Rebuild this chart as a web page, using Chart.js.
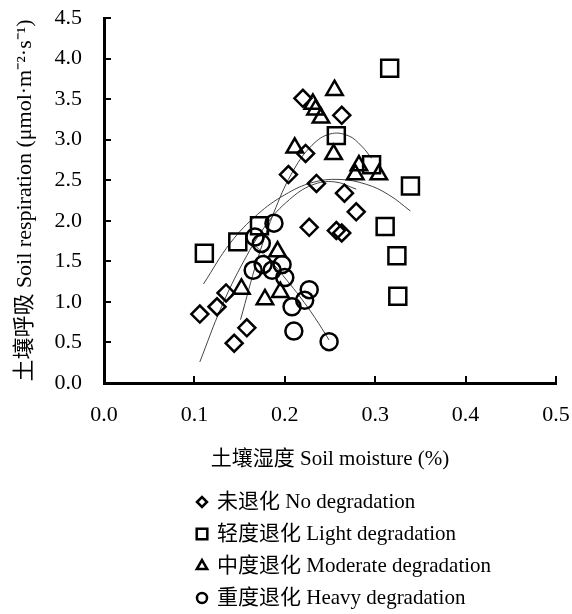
<!DOCTYPE html>
<html>
<head>
<meta charset="utf-8">
<script src="https://cdn.jsdelivr.net/npm/chart.js@4.4.0/dist/chart.umd.min.js"></script>
<style>
  html, body { margin: 0; padding: 0; background: #fff; }
</style>
</head>
<body>
<canvas id="chart" width="572" height="614"></canvas>
<script>
// axis ticks
const xTicks = [0, 0.1, 0.2, 0.3, 0.4, 0.5];
const yTicks = [0, 0.5, 1, 1.5, 2, 2.5, 3, 3.5, 4, 4.5];

const xTitle = "土壤湿度 Soil moisture (%)";
const yTitle = "土壤呼吸 Soil respiration (μmol·m⁻²·s⁻¹)";

const seriesNames = ["未退化 No degradation", "轻度退化 Light degradation", "中度退化 Moderate degradation", "重度退化 Heavy degradation"];

// observed points
const noDegX = [0.106, 0.125, 0.135, 0.144, 0.158, 0.204, 0.220, 0.223, 0.235, 0.227, 0.257, 0.263, 0.263, 0.266, 0.279];
const noDegY = [0.85, 0.94, 1.11, 0.49, 0.68, 2.57, 3.51, 2.83, 2.46, 1.92, 1.88, 1.85, 3.30, 2.34, 2.11];

const lightX = [0.111, 0.148, 0.172, 0.257, 0.296, 0.316, 0.339, 0.311, 0.324, 0.325];
const lightY = [1.60, 1.74, 1.94, 3.05, 2.69, 3.88, 2.43, 1.93, 1.57, 1.07];

const modX = [0.255, 0.231, 0.234, 0.240, 0.211, 0.254, 0.282, 0.278, 0.304, 0.152, 0.178, 0.192, 0.195];
const modY = [3.61, 3.44, 3.37, 3.27, 2.90, 2.82, 2.68, 2.57, 2.57, 1.16, 1.03, 1.62, 1.12];

const heavyX = [0.188, 0.167, 0.174, 0.165, 0.176, 0.186, 0.197, 0.200, 0.208, 0.222, 0.227, 0.210, 0.249];
const heavyY = [1.97, 1.80, 1.72, 1.39, 1.46, 1.39, 1.46, 1.30, 0.94, 1.02, 1.15, 0.64, 0.51];

// fitted curves
const fitNoDegX = [0.106, 0.130, 0.155, 0.180, 0.205, 0.230, 0.255, 0.279];
const fitNoDegY = [0.26, 0.94, 1.51, 1.96, 2.26, 2.44, 2.48, 2.39];

const fitLightX = [0.110, 0.140, 0.170, 0.200, 0.230, 0.260, 0.290, 0.315, 0.339];
const fitLightY = [1.22, 1.73, 2.08, 2.32, 2.47, 2.51, 2.45, 2.32, 2.12];

const fitModX = [0.151, 0.170, 0.190, 0.210, 0.230, 0.250, 0.270, 0.285, 0.296];
const fitModY = [0.78, 1.53, 2.16, 2.63, 2.93, 3.07, 3.05, 2.92, 2.77];

const fitHeavyX = [0.165, 0.187, 0.202, 0.217, 0.233, 0.249];
const fitHeavyY = [1.72, 1.47, 1.27, 1.06, 0.81, 0.53];

const markerStyles = ["rectRot", "rect", "triangle", "circle"];
const markerRadii = [8.5, 12, 9.5, 8.5];
const legendRadii = [5, 7.5, 6, 5];

const serif = "'Liberation Serif', 'Noto Sans CJK SC', serif";

function pts(xs, ys) {
  return xs.map((x, i) => ({ x: x, y: ys[i] }));
}

function markerSet(name, xs, ys, i) {
  return {
    label: name,
    data: pts(xs, ys),
    showLine: false,
    pointStyle: markerStyles[i],
    pointRadius: markerRadii[i],
    pointHoverRadius: markerRadii[i],
    pointBorderWidth: 2.5,
    pointBorderColor: "#000",
    pointBackgroundColor: "rgba(0,0,0,0)",
  };
}

function fitSet(xs, ys) {
  return {
    label: "fit",
    data: pts(xs, ys),
    showLine: true,
    borderColor: "#444",
    borderWidth: 1,
    pointRadius: 0,
    tension: 0.4,
  };
}

// inner tick marks and the stacked legend under the axis title
const decorations = {
  id: "decorations",
  afterDatasetsDraw(chart) {
    const ctx = chart.ctx;
    const xs = chart.scales.x, ys = chart.scales.y;
    const area = chart.chartArea;
    ctx.save();
    ctx.strokeStyle = "#000";
    ctx.lineWidth = 2;
    xTicks.forEach(v => {
      const px = Math.round(xs.getPixelForValue(v));
      ctx.beginPath();
      ctx.moveTo(px, area.bottom);
      ctx.lineTo(px, area.bottom - 7);
      ctx.stroke();
    });
    yTicks.forEach(v => {
      const py = Math.round(ys.getPixelForValue(v));
      ctx.beginPath();
      ctx.moveTo(area.left, py);
      ctx.lineTo(area.left + 7, py);
      ctx.stroke();
    });

    ctx.font = "21px " + serif;
    ctx.textBaseline = "middle";
    seriesNames.forEach((name, i) => {
      const y = 502 + i * 32;
      ctx.fillStyle = "rgba(0,0,0,0)";
      ctx.strokeStyle = "#000";
      ctx.lineWidth = 2.5;
      Chart.helpers.drawPoint(ctx, { pointStyle: markerStyles[i], radius: legendRadii[i], borderWidth: 2.5, rotation: 0 }, 202, y);
      ctx.fillStyle = "#000";
      ctx.fillText(name, 217, y);
    });
    ctx.restore();
  }
};

const ctx = document.getElementById("chart").getContext("2d");

new Chart(ctx, {
  type: "scatter",
  data: {
    datasets: [
      markerSet(seriesNames[0], noDegX, noDegY, 0),
      markerSet(seriesNames[1], lightX, lightY, 1),
      markerSet(seriesNames[2], modX, modY, 2),
      markerSet(seriesNames[3], heavyX, heavyY, 3),
      fitSet(fitNoDegX, fitNoDegY),
      fitSet(fitLightX, fitLightY),
      fitSet(fitModX, fitModY),
      fitSet(fitHeavyX, fitHeavyY),
    ],
  },
  options: {
    responsive: false,
    animation: false,
    layout: { padding: { top: 18, right: 16, bottom: 142, left: 0 } },
    plugins: {
      legend: { display: false },
      tooltip: { enabled: false },
    },
    scales: {
      x: {
        type: "linear",
        min: 0,
        max: 0.5,
        afterBuildTicks: s => { s.ticks = xTicks.map(v => ({ value: v })); },
        afterFit: s => { s.height = 89; },
        ticks: {
          callback: v => v.toFixed(1),
          font: { family: serif, size: 22 },
          color: "#000",
          padding: 0,
          maxRotation: 0,
        },
        grid: { drawOnChartArea: false, drawTicks: true, tickLength: 19, tickColor: "rgba(0,0,0,0)" },
        border: { color: "#000", width: 3 },
        title: {
          display: true,
          text: xTitle,
          font: { family: serif, size: 21 },
          color: "#000",
          padding: { top: 0, bottom: 0 },
        },
      },
      y: {
        type: "linear",
        min: 0,
        max: 4.5,
        afterBuildTicks: s => { s.ticks = yTicks.map(v => ({ value: v })); },
        afterFit: s => { s.width = 104; },
        ticks: {
          callback: v => v.toFixed(1),
          font: { family: serif, size: 22 },
          color: "#000",
          padding: 0,
        },
        grid: { drawOnChartArea: false, drawTicks: true, tickLength: 22, tickColor: "rgba(0,0,0,0)" },
        border: { color: "#000", width: 3 },
        title: {
          display: true,
          text: yTitle,
          font: { family: serif, size: 22 },
          color: "#000",
          padding: { top: 12, bottom: 0 },
        },
      },
    },
  },
  plugins: [decorations],
});
</script>
</body>
</html>
